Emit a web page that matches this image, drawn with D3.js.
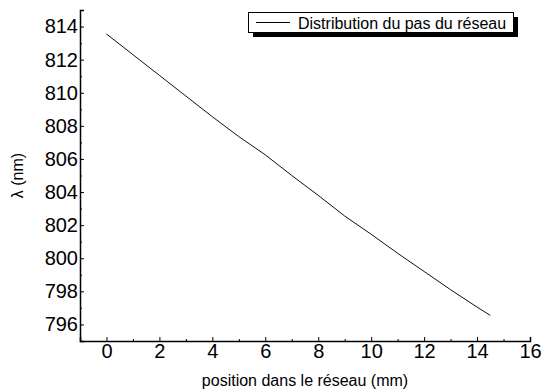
<!DOCTYPE html>
<html><head><meta charset="utf-8">
<script src="https://cdn.jsdelivr.net/npm/d3@7"></script>
<style>body{margin:0;background:#fff}svg{display:block}text{font-family:"Liberation Sans",Arial,sans-serif;fill:#000}</style>
</head><body>
<script>
const positions = [0, 1, 2, 3, 4, 5, 6, 7, 8, 9, 10, 11, 12, 13, 14, 14.5];
const wavelengths = [813.55, 812.3, 811.05, 809.8, 808.55, 807.35, 806.25, 805.0, 803.8, 802.55, 801.45, 800.3, 799.2, 798.1, 797.05, 796.55];
const xTicks = [0, 2, 4, 6, 8, 10, 12, 14, 16];
const yTicks = [796, 798, 800, 802, 804, 806, 808, 810, 812, 814];
const xMinor = [-1, 1, 3, 5, 7, 9, 11, 13, 15];
const yMinor = [795, 797, 799, 801, 803, 805, 807, 809, 811, 813, 815];
const seriesName = "Distribution du pas du réseau";
const xLabel = "position dans le réseau (mm)";
const yLabel = "λ (nm)";

const W = 543, H = 389;
const svg = d3.select("body").append("svg").attr("width", W).attr("height", H);
const x = d3.scaleLinear().domain([-1, 16]).range([80, 530]);
const y = d3.scaleLinear().domain([795, 815]).range([341, 10]);

// axes
const xa = svg.append("g").attr("transform", `translate(0,${y(795)})`)
  .call(d3.axisBottom(x).tickValues(xTicks).tickSize(-4).tickPadding(3).tickFormat(d3.format("d")));
const ya = svg.append("g").attr("transform", `translate(${x(-1)},0)`)
  .call(d3.axisLeft(y).tickValues(yTicks).tickSize(-4).tickPadding(2).tickFormat(d3.format("d")));
[xa, ya].forEach(g => {
  g.select(".domain").attr("stroke", "#000").attr("stroke-width", 1.5);
  g.selectAll(".tick line").attr("stroke", "#000");
  g.selectAll(".tick text").style("font-size", "20px").style("font-family", "Liberation Sans, Arial, sans-serif");
});
svg.append("g").attr("transform", `translate(0,${y(795)})`)
  .call(d3.axisBottom(x).tickValues(xMinor).tickSize(-2).tickFormat(""))
  .call(g => g.select(".domain").remove()).selectAll("line").attr("stroke", "#000");
svg.append("g").attr("transform", `translate(${x(-1)},0)`)
  .call(d3.axisLeft(y).tickValues(yMinor).tickSize(-2).tickFormat(""))
  .call(g => g.select(".domain").remove()).selectAll("line").attr("stroke", "#000");

// data line
const data = positions.map((p, i) => [p, wavelengths[i]]);
svg.append("path").datum(data)
  .attr("fill", "none").attr("stroke", "#111").attr("stroke-width", 1)
  .attr("d", d3.line().x(d => x(d[0])).y(d => y(d[1])));

// axis labels
svg.append("text").attr("x", (x.range()[0] + x.range()[1]) / 2).attr("y", 386)
  .attr("text-anchor", "middle").style("font-size", "16px").text(xLabel);
svg.append("text").attr("transform", `translate(23,${(y.range()[0] + y.range()[1]) / 2}) rotate(-90)`)
  .attr("text-anchor", "middle").style("font-size", "16px").text(yLabel);

// legend
const lg = svg.append("g");
lg.append("rect").attr("x", 253).attr("y", 17).attr("width", 265).attr("height", 20).attr("fill", "#000");
lg.append("rect").attr("x", 248.5).attr("y", 12.5).attr("width", 265).attr("height", 20).attr("fill", "#fff").attr("stroke", "#000").attr("stroke-width", 1);
lg.append("line").attr("x1", 256).attr("x2", 290).attr("y1", 22.5).attr("y2", 22.5).attr("stroke", "#000");
lg.append("text").attr("x", 298).attr("y", 28.5).style("font-size", "16px").text(seriesName);
</script>
</body></html>
